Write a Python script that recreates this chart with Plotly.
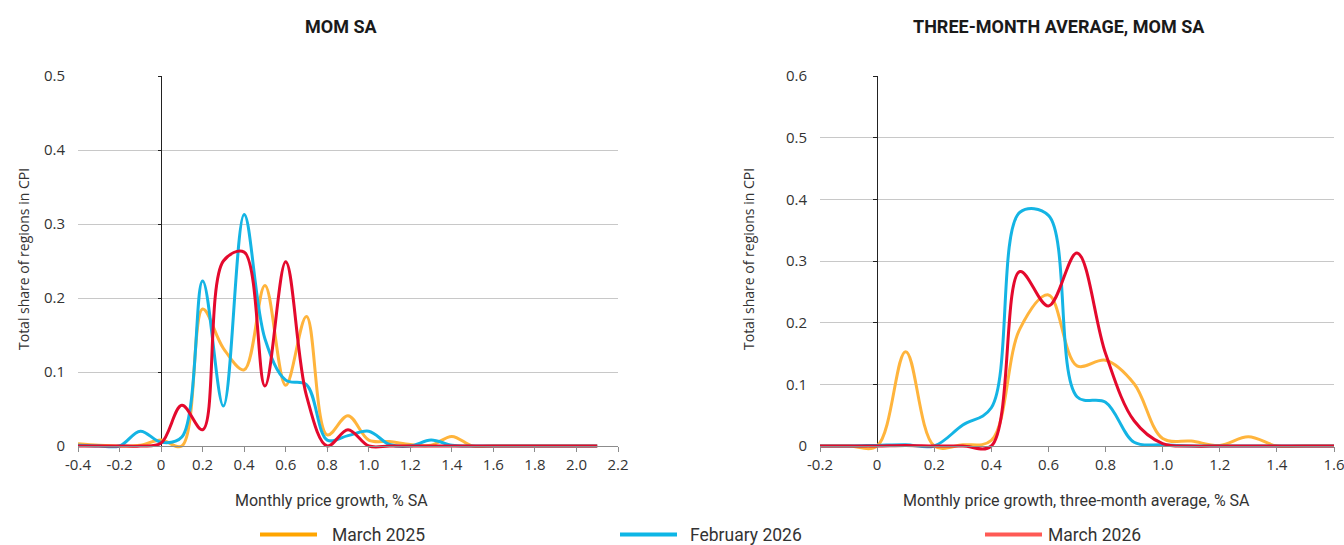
import plotly.graph_objects as go

# ---------------- data ----------------
x_left = [-0.4, -0.3, -0.2, -0.1, 0.0, 0.1, 0.2, 0.3, 0.4, 0.5, 0.6, 0.7, 0.8,
          0.9, 1.0, 1.1, 1.2, 1.3, 1.4, 1.5, 1.6, 1.7, 1.8, 1.9, 2.0, 2.1]
mar25_left = [0.003, 0.001, 0.0, 0.001, 0.008, 0.0, 0.185, 0.132, 0.103, 0.217, 0.082, 0.175, 0.015,
              0.041, 0.008, 0.006, 0.002, 0.001, 0.013, 0.0, 0.0, 0.0, 0.0, 0.0, 0.0, 0.0]
feb26_left = [0.001, 0.0, 0.0, 0.020, 0.005, 0.012, 0.223, 0.054, 0.313, 0.145, 0.089, 0.083, 0.008,
              0.014, 0.020, 0.002, 0.0, 0.008, 0.001, 0.0, 0.0, 0.0, 0.0, 0.0, 0.0, 0.0]
mar26_left = [0.0, 0.0, 0.0, 0.0, 0.004, 0.055, 0.022, 0.250, 0.262, 0.081, 0.249, 0.068, 0.0,
              0.022, 0.0, 0.0, 0.0, 0.0, 0.0, 0.0, 0.0, 0.0, 0.0, 0.0, 0.0, 0.0]

x_right = [-0.2, -0.1, 0.0, 0.1, 0.2, 0.3, 0.4, 0.5, 0.6, 0.7, 0.8, 0.9, 1.0, 1.1, 1.2, 1.3, 1.4, 1.5, 1.6]
mar25_right = [0.0, 0.0, 0.0, 0.153, 0.0, 0.002, 0.009, 0.19, 0.245, 0.13, 0.139, 0.101, 0.012,
               0.008, 0.001, 0.015, 0.0, 0.0, 0.0]
feb26_right = [0.0, 0.0, 0.001, 0.002, 0.0, 0.034, 0.062, 0.379, 0.374, 0.08, 0.071, 0.006, 0.002,
               0.0, 0.0, 0.0, 0.0, 0.0, 0.0]
mar26_right = [0.0, 0.0, 0.0, 0.001, 0.0, 0.0, 0.0, 0.283, 0.227, 0.313, 0.15, 0.041, 0.004,
               0.0, 0.0, 0.0, 0.0, 0.0, 0.0]

series_names = ["March 2025", "February 2026", "March 2026"]

xt_left_vals = [-0.4, -0.2, 0, 0.2, 0.4, 0.6, 0.8, 1.0, 1.2, 1.4, 1.6, 1.8, 2.0, 2.2]
xt_left_text = ["-0.4", "-0.2", "0", "0.2", "0.4", "0.6", "0.8", "1.0", "1.2", "1.4", "1.6", "1.8", "2.0", "2.2"]
xt_right_vals = [-0.2, 0, 0.2, 0.4, 0.6, 0.8, 1.0, 1.2, 1.4, 1.6]
xt_right_text = ["-0.2", "0", "0.2", "0.4", "0.6", "0.8", "1.0", "1.2", "1.4", "1.6"]
yt_left_vals = [0, 0.1, 0.2, 0.3, 0.4, 0.5]
yt_left_text = ["0", "0.1", "0.2", "0.3", "0.4", "0.5"]
yt_right_vals = [0, 0.1, 0.2, 0.3, 0.4, 0.5, 0.6]
yt_right_text = ["0", "0.1", "0.2", "0.3", "0.4", "0.5", "0.6"]

# ---------------- style ----------------
W, H = 1344, 545
OX, OY = 0, 0  # body margin is removed by the post script, so the figure starts at the window corner
FONT_TICK = "Open Sans, sans-serif"
FONT_BRAND = "Roboto, sans-serif"
line_colors = ["#FFB43C", "#14B4E4", "#E4092D"]
legend_colors = ["#FFA500", "#0DB6E6", "#FF5A55"]


def py(p):
    """window pixel row -> paper fraction"""
    return (H - (p - OY)) / H


def px(p):
    """window pixel column -> paper fraction"""
    return (p - OX) / W


PAD = 6  # px below zero so lines lying at 0 are not clipped
top_px, zero_px = 76, 446
left_ymin = -0.5 * PAD / (zero_px - top_px)
right_ymin = -0.6 * PAD / (zero_px - top_px)

fig = go.Figure()
for xs, ys_list, xa, ya in [(x_left, [mar25_left, feb26_left, mar26_left], "x", "y"),
                            (x_right, [mar25_right, feb26_right, mar26_right], "x2", "y2")]:
    for ys, c, nm in zip(ys_list, line_colors, series_names):
        fig.add_trace(go.Scatter(x=xs, y=ys, mode="lines", name=nm,
                                 line=dict(color=c, width=3, shape="spline", smoothing=1.0),
                                 xaxis=xa, yaxis=ya, showlegend=False, hoverinfo="x+y"))
# empty traces that bring up the small tick axes drawn on the x = 0 line
fig.add_trace(go.Scatter(x=[None], y=[None], xaxis="x", yaxis="y3", showlegend=False, hoverinfo="skip"))
fig.add_trace(go.Scatter(x=[None], y=[None], xaxis="x2", yaxis="y4", showlegend=False, hoverinfo="skip"))

tickfont = dict(family=FONT_TICK, size=15, color="#333333")

common_x = dict(anchor="free", position=py(zero_px), ticks="outside", ticklen=5, tickcolor="#8c8c8c",
                showline=True, linecolor="#8c8c8c", linewidth=1, showgrid=False,
                zeroline=True, zerolinecolor="#222222", zerolinewidth=1, tickfont=tickfont,
                fixedrange=True, automargin=False, ticklabeloverflow="allow")
common_y = dict(showgrid=True, gridcolor="#c8c8c8", gridwidth=1, zeroline=False, showline=False,
                ticks="", tickfont=tickfont, ticklabelstandoff=12, fixedrange=True, automargin=False,
                ticklabeloverflow="allow")
tick_y = dict(showgrid=False, zeroline=False, showline=False, ticks="outside", ticklen=4,
              tickcolor="#222222", showticklabels=False, fixedrange=True, automargin=False,
              anchor="free")

ydom = [py(zero_px + PAD), py(top_px)]
fig.update_layout(
    width=W, height=H, margin=dict(l=0, r=0, t=0, b=0, autoexpand=False),
    paper_bgcolor="white", plot_bgcolor="white", showlegend=False,
    xaxis=dict(domain=[px(78), px(618)], range=[-0.4, 2.2], tickvals=xt_left_vals,
               ticktext=xt_left_text, **common_x),
    yaxis=dict(domain=ydom, range=[left_ymin, 0.5], anchor="x",
               tickvals=yt_left_vals, ticktext=yt_left_text, **common_y),
    xaxis2=dict(domain=[px(820), px(1334)], range=[-0.2, 1.6], tickvals=xt_right_vals,
                ticktext=xt_right_text, **common_x),
    yaxis2=dict(domain=ydom, range=[right_ymin, 0.6], anchor="x2",
                tickvals=yt_right_vals, ticktext=yt_right_text, **common_y),
    yaxis3=dict(domain=ydom, range=[left_ymin, 0.5], overlaying="y", position=px(161.5),
                tickvals=yt_left_vals[1:], **tick_y),
    yaxis4=dict(domain=ydom, range=[right_ymin, 0.6], overlaying="y2", position=px(877),
                tickvals=yt_right_vals[1:], **tick_y),
)

ann = []
titlefont = dict(family=FONT_BRAND, size=18, color="#1a1a1a")
ann.append(dict(text="<b>MOM SA</b>", x=px(341), y=py(26), xref="paper", yref="paper",
                showarrow=False, font=titlefont, xanchor="center", yanchor="middle"))
ann.append(dict(text="<b>THREE-MONTH AVERAGE, MOM SA</b>", x=px(1059), y=py(26), xref="paper",
                yref="paper", showarrow=False, font=titlefont, xanchor="center", yanchor="middle"))
yfont = dict(family=FONT_TICK, size=14, color="#333333")
for xp in (23, 748):
    ann.append(dict(text="Total share of regions in CPI", x=px(xp), y=py(259), xref="paper", yref="paper",
                    showarrow=False, font=yfont, textangle=-90, xanchor="center", yanchor="middle"))
axfont = dict(family=FONT_BRAND, size=16, color="#333333")
ann.append(dict(text="Monthly price growth, % SA", x=px(331), y=py(500), xref="paper", yref="paper",
                showarrow=False, font=axfont, xanchor="center", yanchor="middle"))
ann.append(dict(text="Monthly price growth, three-month average, % SA", x=px(1076), y=py(500),
                xref="paper", yref="paper", showarrow=False, font=axfont, xanchor="center",
                yanchor="middle"))

legend_x = [(260, 317, 330), (620, 677, 688), (985, 1042, 1046)]
shapes = []
legfont = dict(family=FONT_BRAND, size=17.5, color="#333333")
for (x0, x1, xt), c, nm in zip(legend_x, legend_colors, series_names):
    shapes.append(dict(type="line", xref="paper", yref="paper", x0=px(x0), x1=px(x1),
                       y0=py(534.5), y1=py(534.5), line=dict(color=c, width=4)))
    ann.append(dict(text=nm, x=px(xt), y=py(535), xref="paper", yref="paper", showarrow=False,
                    font=legfont, xanchor="left", yanchor="middle"))

fig.update_layout(annotations=ann, shapes=shapes)
fig.write_html("out.html", config={"displayModeBar": False},
               post_script="document.body.style.margin='0px';document.body.style.overflow='hidden';")
